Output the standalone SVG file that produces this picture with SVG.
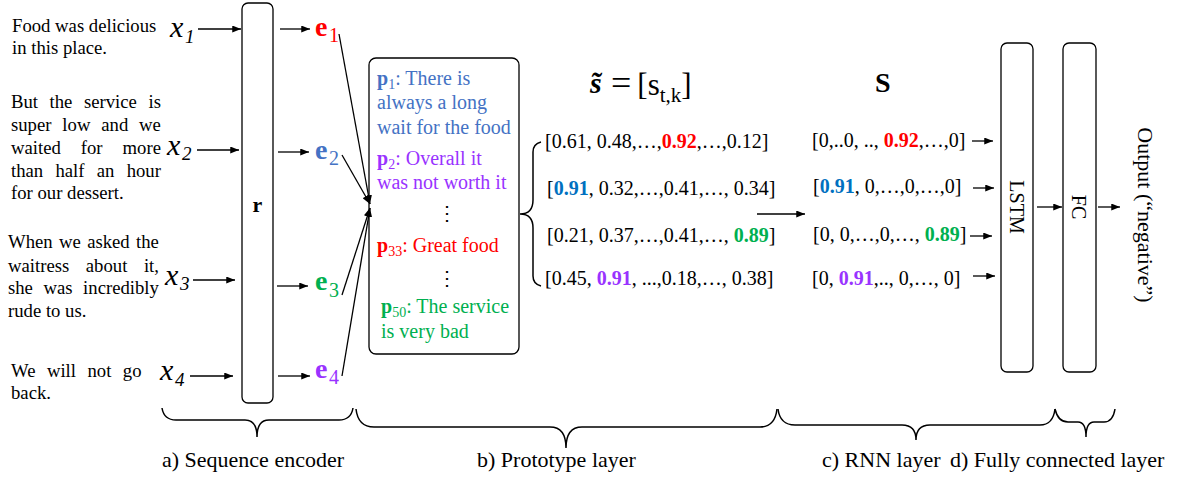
<svg xmlns="http://www.w3.org/2000/svg" width="1188" height="478" viewBox="0 0 1188 478" font-family="'Liberation Serif', 'Times New Roman', serif">
<style>
text{fill:#000;font-family:'Liberation Serif','Times New Roman',serif}
.tpara{font-size:18.7px}
.txl{font-size:30px;font-style:italic}
.txs{font-size:19px;font-style:italic}
.tel{font-size:28px;font-weight:bold}
.tes{font-size:20px}
.tpt{font-size:20px}
.tvec{font-size:20px}
.tlab{font-size:22px}
.b{font-weight:bold}
.red{fill:#FF0000}
.blue{fill:#4472C4}
.dblue{fill:#0070C0}
.green{fill:#00B050}
.purple{fill:#9933FF}
.box{fill:#fff;stroke:#000;stroke-width:1.3}
.ln{stroke:#000;stroke-width:1.3;fill:none}
.br{stroke:#000;stroke-width:1.5;fill:none}
</style>
<defs>
<marker id="ah" viewBox="0 0 10 8" refX="10" refY="4" markerWidth="9" markerHeight="7" orient="auto" markerUnits="userSpaceOnUse"><path d="M0,0 L10,4 L0,8 z" fill="#000"/></marker>
</defs>

<g id="sentences">
<text class="tpara" x="12" y="32">Food was delicious</text>
<text class="tpara" x="12" y="54">in this place.</text>
<text class="tpara" x="11" y="108" word-spacing="6.9">But the service is</text>
<text class="tpara" x="11" y="131" word-spacing="6.2">super low and we</text>
<text class="tpara" x="11" y="154" word-spacing="15.3">waited for more</text>
<text class="tpara" x="11" y="177" word-spacing="7.6">than half an hour</text>
<text class="tpara" x="11" y="199">for our dessert.</text>
<text class="tpara" x="8" y="248" word-spacing="1.7">When we asked the</text>
<text class="tpara" x="8" y="272" word-spacing="11.9">waitress about it,</text>
<text class="tpara" x="8" y="294" word-spacing="5.9">she was incredibly</text>
<text class="tpara" x="8" y="317">rude to us.</text>
<text class="tpara" x="11" y="377" word-spacing="6.8">We will not go</text>
<text class="tpara" x="11" y="399">back.</text>
</g>

<g id="inputs">
<text class="txl" x="170" y="37">x</text><text class="txs" x="185" y="43">1</text>
<text class="txl" x="167" y="155">x</text><text class="txs" x="182" y="160">2</text>
<text class="txl" x="165" y="285">x</text><text class="txs" x="180" y="290">3</text>
<text class="txl" x="160" y="380">x</text><text class="txs" x="175" y="386">4</text>
</g>

<g id="encoder">
<rect class="box" x="242" y="3" width="31" height="400" rx="6"/>
<text x="257.5" y="212" text-anchor="middle" font-size="22" font-weight="bold">r</text>
</g>

<g id="embeddings">
<text class="tel red" x="315" y="36">e</text><text class="tes red" x="329" y="42">1</text>
<text class="tel blue" x="315" y="159">e</text><text class="tes blue" x="329" y="165">2</text>
<text class="tel green" x="315" y="290">e</text><text class="tes green" x="329" y="297">3</text>
<text class="tel purple" x="315" y="378">e</text><text class="tes purple" x="329" y="384">4</text>
</g>

<g id="prototypes">
<rect class="box" x="369" y="58" width="150" height="296" rx="7"/>
<text class="tpt blue" x="377" y="85"><tspan class="b">p</tspan><tspan font-size="14" dy="4">1</tspan><tspan dy="-4">: There is</tspan></text>
<text class="tpt blue" x="377" y="109">always a long</text>
<text class="tpt blue" x="377" y="134">wait for the food</text>
<text class="tpt purple" x="377" y="165"><tspan class="b">p</tspan><tspan font-size="14" dy="4">2</tspan><tspan dy="-4">: Overall it</tspan></text>
<text class="tpt purple" x="377" y="189">was not worth it</text>
<text class="tpt" x="447" y="220" text-anchor="middle">⋮</text>
<text class="tpt red" x="377" y="252"><tspan class="b">p</tspan><tspan font-size="14" dy="4">33</tspan><tspan dy="-4">: Great food</tspan></text>
<text class="tpt" x="447" y="285" text-anchor="middle">⋮</text>
<text class="tpt green" x="381" y="313"><tspan class="b">p</tspan><tspan font-size="14" dy="4">50</tspan><tspan dy="-4">: The service</tspan></text>
<text class="tpt green" x="381" y="338">is very bad</text>
</g>

<g id="similarity">
<text x="590" y="93" font-size="30" font-weight="bold" font-style="italic">s̃</text>
<text x="611" y="95"><tspan font-size="36">=</tspan><tspan font-size="31" dx="6">[s</tspan><tspan font-size="21" dy="7">t,k</tspan><tspan font-size="31" dy="-7">]</tspan></text>
<path class="br" d="M520,214 Q533,214 533,200 L533,152 Q533,144 541,142 M520,214 Q533,214 533,228 L533,276 Q533,284 541,286"/>
<text class="tvec" x="545" y="148">[0.61, 0.48,…,<tspan class="b red">0.92</tspan>,…,0.12]</text>
<text class="tvec" x="547" y="195">[<tspan class="b dblue">0.91</tspan>, 0.32,…,0.41,…, 0.34]</text>
<text class="tvec" x="547" y="242">[0.21, 0.37,…,0.41,…, <tspan class="b green">0.89</tspan>]</text>
<text class="tvec" x="545" y="285">[0.45, <tspan class="b purple">0.91</tspan>, ...,0.18,…, 0.38]</text>
</g>

<g id="sparse">
<text x="875" y="92" font-size="28" font-weight="bold">S</text>
<text class="tvec" x="812" y="147">[0,..0, .., <tspan class="b red">0.92</tspan>,…,0]</text>
<text class="tvec" x="813" y="193">[<tspan class="b dblue">0.91</tspan>, 0,…,0,…,0]</text>
<text class="tvec" x="813" y="241">[0, 0,…,0,…, <tspan class="b green">0.89</tspan>]</text>
<text class="tvec" x="812" y="285">[0, <tspan class="b purple">0.91</tspan>,.., 0,…, 0]</text>
</g>

<g id="lstm">
<rect class="box" x="1001" y="43" width="32" height="329" rx="6"/>
<text transform="translate(1010,207) rotate(90)" text-anchor="middle" font-size="20">LSTM</text>
</g>

<g id="fc">
<rect class="box" x="1063" y="43" width="33" height="329" rx="6"/>
<text transform="translate(1072,207) rotate(90)" text-anchor="middle" font-size="20">FC</text>
</g>

<g id="output">
<text transform="translate(1138,215) rotate(90)" text-anchor="middle" font-size="22">Output (“negative”)</text>
</g>

<g id="connectors">
<line class="ln" x1="198" y1="29" x2="241" y2="29" marker-end="url(#ah)"/>
<line class="ln" x1="197" y1="150" x2="239" y2="150" marker-end="url(#ah)"/>
<line class="ln" x1="193" y1="280" x2="235" y2="280" marker-end="url(#ah)"/>
<line class="ln" x1="190" y1="376" x2="233" y2="376" marker-end="url(#ah)"/>
<line class="ln" x1="280" y1="29" x2="310" y2="29" marker-end="url(#ah)"/>
<line class="ln" x1="278" y1="152" x2="309" y2="152" marker-end="url(#ah)"/>
<line class="ln" x1="277" y1="286" x2="308" y2="286" marker-end="url(#ah)"/>
<line class="ln" x1="278" y1="376" x2="310" y2="376" marker-end="url(#ah)"/>
<line class="ln" x1="339" y1="34" x2="370" y2="204" marker-end="url(#ah)"/>
<line class="ln" x1="342" y1="155" x2="370" y2="204" marker-end="url(#ah)"/>
<line class="ln" x1="342" y1="295" x2="370" y2="208" marker-end="url(#ah)"/>
<line class="ln" x1="342" y1="376" x2="370" y2="208" marker-end="url(#ah)"/>
<line class="ln" x1="757" y1="214" x2="805" y2="214" marker-end="url(#ah)"/>
<line class="ln" x1="972" y1="141" x2="993" y2="141" marker-end="url(#ah)"/>
<line class="ln" x1="973" y1="188" x2="994" y2="188" marker-end="url(#ah)"/>
<line class="ln" x1="970" y1="236" x2="992" y2="236" marker-end="url(#ah)"/>
<line class="ln" x1="973" y1="276" x2="995" y2="276" marker-end="url(#ah)"/>
<line class="ln" x1="1037" y1="207" x2="1062" y2="207" marker-end="url(#ah)"/>
<line class="ln" x1="1098" y1="207" x2="1120" y2="207" marker-end="url(#ah)"/>
</g>

<g id="braces">
<path class="br" d="M162,408 Q164,420 176,420 L245,420 Q257,420 257,437 Q257,420 269,420 L339,420 Q351,420 353,408"/>
<path class="br" d="M356,409 Q358,427 374,427 L550,427 Q566,427 566,448 Q566,427 582,427 L760,427 Q775,427 777,409"/>
<path class="br" d="M778,409 Q780,425 795,425 L902,425 Q916,425 916,440 Q916,425 930,425 L1040,425 Q1053,425 1055,409"/>
<path class="br" d="M1055,409 Q1058,422 1068,422 L1078,422 Q1086,422 1086,437 Q1086,422 1094,422 L1104,422 Q1113,422 1115,409"/>
</g>

<g id="labels">
<text class="tlab" x="162" y="467">a) Sequence encoder</text>
<text class="tlab" x="477" y="467">b) Prototype layer</text>
<text class="tlab" x="822" y="467">c) RNN layer</text>
<text class="tlab" x="950" y="467">d) Fully connected layer</text>
</g>
</svg>
